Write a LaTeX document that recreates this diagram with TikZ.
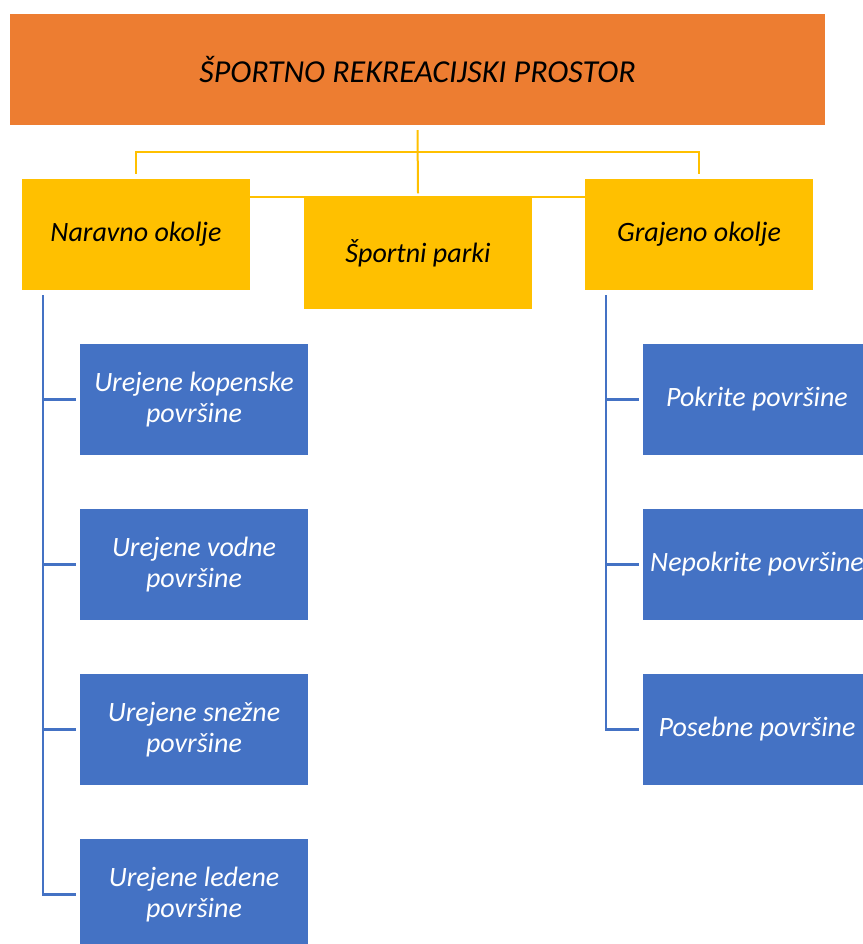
\documentclass[tikz,border=0pt]{standalone}
\usepackage{fontspec}
\setmainfont{Carlito}
\usetikzlibrary{backgrounds}
\definecolor{orangebox}{HTML}{ED7D31}
\definecolor{goldbox}{HTML}{FFC000}
\definecolor{bluebox}{HTML}{4472C4}

\begin{document}
\begin{tikzpicture}[x=1pt,y=-1pt,
    box/.style={minimum width=228pt,minimum height=111pt,inner sep=0pt,
      align=center,font=\itshape\fontsize{28}{31}\selectfont},
    rootbox/.style={box,fill=orangebox,minimum width=815pt,
      font=\itshape\fontsize{32}{36}\selectfont},
    goldbox/.style={box,fill=goldbox},
    bluebox/.style={box,fill=bluebox,text=white},
    goldline/.style={draw=goldbox,line width=2pt},
    blueline/.style={draw=bluebox,line width=2.2pt}]
  \useasboundingbox (0,0) rectangle (862,944);
  \node[rootbox] (root) at (417.5,69.5) {ŠPORTNO REKREACIJSKI PROSTOR};
  \node[goldbox] (naravno) at (136,234.5) {Naravno okolje};
  \node[goldbox] (parki) at (418,253) {Športni parki};
  \node[goldbox] (grajeno) at (699,234.5) {Grajeno okolje};
  % naravno okolje
  \node[bluebox] (urejene1) at (194,399.5) {Urejene kopenske\\površine};
  \node[bluebox] (urejene2) at (194,564.5) {Urejene vodne\\površine};
  \node[bluebox] (urejene3) at (194,729.5) {Urejene snežne\\površine};
  \node[bluebox] (urejene4) at (194,894.5) {Urejene ledene\\površine};
  % grajeno okolje
  \node[bluebox] (pokrite) at (757,399.5) {Pokrite površine};
  \node[bluebox] (nepokrite) at (757,564.5) {Nepokrite površine};
  \node[bluebox] (posebne) at (757,729.5) {Posebne površine};
  \begin{scope}[on background layer]
    \draw[goldline] (naravno.east |- parki.north) -- (grajeno.west |- parki.north);
  \end{scope}
  \draw[goldline] ([yshift=-5pt]root.south) -- ([yshift=4pt]parki.north);
  \draw[goldline] ([yshift=5pt]naravno.north) |- ([yshift=-27pt]root.south)
    -| ([yshift=5pt]grajeno.north);
  % levi stolpec
  \coordinate (spineL) at ([xshift=21pt,yshift=-5pt]naravno.south west);
  \draw[blueline] (spineL) |- ([xshift=-4pt]urejene4.west);
  \foreach \n in {urejene1,urejene2,urejene3}
    \draw[blueline] (spineL |- \n.west) -- ([xshift=-4pt]\n.west);
  % desni stolpec
  \coordinate (spineR) at ([xshift=21pt,yshift=-5pt]grajeno.south west);
  \draw[blueline] (spineR) |- ([xshift=-4pt]posebne.west);
  \foreach \n in {pokrite,nepokrite}
    \draw[blueline] (spineR |- \n.west) -- ([xshift=-4pt]\n.west);
\end{tikzpicture}
\end{document}
